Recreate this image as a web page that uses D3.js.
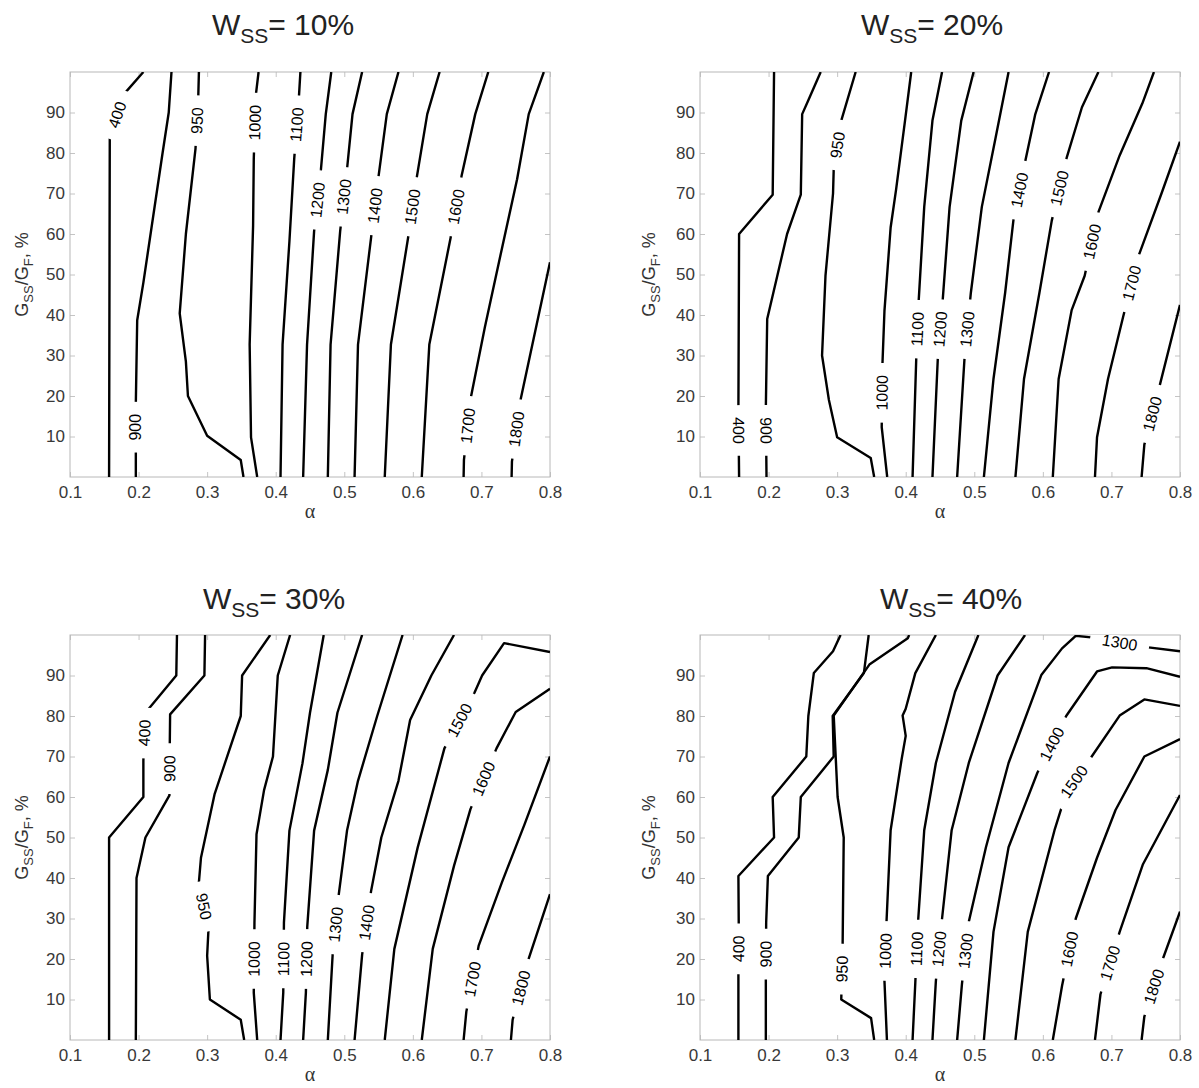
<!DOCTYPE html>
<html>
<head>
<meta charset="utf-8">
<script src="https://cdn.jsdelivr.net/npm/d3@7"></script>
<style>
  body { margin: 0; background: #fff; }
  text { font-family: Arial, "Liberation Sans", sans-serif; }
</style>
</head>
<body>
<svg id="chart" width="1199" height="1088"></svg>
<script>
// ---- data: contour lines as [level, [[alpha, Gss/Gf], ...]] ----
const xTicks = [0.1, 0.2, 0.3, 0.4, 0.5, 0.6, 0.7, 0.8];
const yTicks = [10, 20, 30, 40, 50, 60, 70, 80, 90];
const titles = ['10%', '20%', '30%', '40%'];

const wss10Lines = [
  [400, [[0.157, 0], [0.158, 84], [0.179, 94.6], [0.207, 100]]],
  [900, [[0.196, 0], [0.196, 18.3], [0.198, 38.7], [0.207, 48], [0.235, 80], [0.244, 90], [0.248, 100]]],
  [950, [[0.353, 0], [0.349, 4.2], [0.300, 10.2], [0.272, 20], [0.269, 28.5], [0.260, 40.4], [0.269, 60], [0.283, 81], [0.287, 93.5], [0.288, 100]]],
  [1000, [[0.373, 0], [0.364, 9.8], [0.362, 32.7], [0.367, 62], [0.368, 78.6], [0.371, 94.3], [0.375, 100]]],
  [1100, [[0.407, 0], [0.410, 32.7], [0.420, 58.2], [0.427, 78.6], [0.434, 94.3], [0.436, 100]]],
  [1200, [[0.440, 0], [0.4457, 32.7], [0.456, 60.7], [0.466, 76], [0.473, 89.6], [0.481, 100]]],
  [1300, [[0.476, 0], [0.480, 32.7], [0.494, 60.7], [0.504, 76], [0.512, 89.6], [0.526, 100]]],
  [1400, [[0.515, 0], [0.520, 32.7], [0.539, 59], [0.550, 74.3], [0.562, 89.6], [0.579, 100]]],
  [1500, [[0.559, 0], [0.568, 32.7], [0.593, 59], [0.606, 74.3], [0.621, 89.6], [0.639, 100]]],
  [1600, [[0.613, 0], [0.624, 32.7], [0.655, 59], [0.671, 74.3], [0.691, 89.6], [0.710, 100]]],
  [1700, [[0.674, 0], [0.6745, 4.2], [0.685, 20], [0.705, 37], [0.730, 56.5], [0.752, 73.5], [0.769, 89.6], [0.791, 100]]],
  [1800, [[0.744, 0], [0.7445, 3.8], [0.757, 19], [0.769, 28.5], [0.8, 53]]]
];
const wss10Labels = [
  [400, 0.166, 89.6], [900, 0.196, 12.3], [950, 0.285, 88], [1000, 0.369, 87.5],
  [1100, 0.431, 87], [1200, 0.461, 68.4], [1300, 0.499, 69.2], [1400, 0.545, 67],
  [1500, 0.600, 66.7], [1600, 0.663, 66.7], [1700, 0.678, 12.7], [1800, 0.749, 11.9]
];

const wss20Lines = [
  [400, [[0.157, 0], [0.156, 17], [0.157, 60], [0.206, 69.7], [0.208, 100]]],
  [900, [[0.197, 0], [0.196, 17], [0.198, 39], [0.227, 60], [0.247, 69.7], [0.249, 89.6], [0.258, 93], [0.276, 100]]],
  [950, [[0.354, 0], [0.349, 4.7], [0.300, 9.8], [0.288, 19], [0.278, 30], [0.283, 49.7], [0.294, 70], [0.295, 76], [0.306, 88], [0.327, 100]]],
  [1000, [[0.373, 0], [0.365, 12.3], [0.366, 27.6], [0.369, 41], [0.378, 61.6], [0.386, 71], [0.399, 88], [0.408, 100]]],
  [1100, [[0.410, 0], [0.4155, 30], [0.419, 43.8], [0.427, 66.7], [0.439, 88], [0.453, 100]]],
  [1200, [[0.439, 0], [0.447, 30], [0.454, 43.8], [0.464, 66.7], [0.481, 88], [0.499, 100]]],
  [1300, [[0.475, 0], [0.486, 30], [0.495, 45.5], [0.511, 66.7], [0.531, 83.7], [0.550, 100]]],
  [1400, [[0.514, 0], [0.528, 24.2], [0.545, 45.5], [0.557, 63.3], [0.574, 77.7], [0.589, 89.6], [0.609, 100]]],
  [1500, [[0.560, 0], [0.5725, 24.2], [0.595, 45.5], [0.613, 63.3], [0.635, 79], [0.657, 91.3], [0.681, 100]]],
  [1600, [[0.6145, 0], [0.623, 24.2], [0.642, 41.2], [0.661, 49.7], [0.681, 65.4], [0.712, 79.4], [0.745, 92.2], [0.762, 100]]],
  [1700, [[0.676, 0], [0.679, 9.8], [0.695, 24.2], [0.717, 39.5], [0.740, 54.8], [0.773, 70], [0.8, 82.8]]],
  [1800, [[0.744, 0], [0.748, 8], [0.771, 23], [0.8, 42.5]]]
];
const wss20Labels = [
  [400, 0.1565, 11.5], [900, 0.1965, 11.5], [950, 0.300, 82], [1000, 0.365, 20.8],
  [1100, 0.417, 36.5], [1200, 0.450, 36.5], [1300, 0.490, 36.5], [1400, 0.5615, 71],
  [1500, 0.623, 71.4], [1600, 0.670, 58.2], [1700, 0.727, 48], [1800, 0.757, 15.7]
];

const wss30Lines = [
  [400, [[0.157, 0], [0.157, 50], [0.207, 60], [0.207, 69], [0.210, 80.8], [0.255, 90], [0.256, 100]]],
  [900, [[0.196, 0], [0.197, 40], [0.210, 50], [0.245, 60.4], [0.2455, 73], [0.246, 80.4], [0.296, 90], [0.297, 100]]],
  [950, [[0.354, 0], [0.349, 5], [0.304, 10], [0.300, 20.8], [0.302, 27.5], [0.288, 39], [0.291, 45], [0.311, 60.8], [0.349, 80], [0.351, 90], [0.392, 100]]],
  [1000, [[0.373, 0], [0.368, 11.7], [0.369, 29], [0.372, 50.8], [0.383, 61.7], [0.396, 70], [0.403, 90], [0.421, 100]]],
  [1100, [[0.407, 0], [0.411, 11.7], [0.412, 29], [0.420, 51.7], [0.439, 68.3], [0.450, 80.8], [0.470, 100]]],
  [1200, [[0.440, 0], [0.444, 11.7], [0.446, 28], [0.456, 51.7], [0.476, 66.7], [0.490, 80.8], [0.526, 100]]],
  [1300, [[0.476, 0], [0.483, 21], [0.492, 36], [0.504, 51.7], [0.520, 64], [0.548, 80], [0.585, 100]]],
  [1400, [[0.515, 0], [0.526, 21], [0.539, 36.7], [0.554, 50], [0.579, 64], [0.596, 79], [0.627, 90], [0.660, 100]]],
  [1500, [[0.559, 0], [0.573, 22.5], [0.607, 47.5], [0.646, 72], [0.690, 85.8], [0.701, 90], [0.733, 98], [0.8, 95.8]]],
  [1600, [[0.613, 0], [0.629, 22.5], [0.660, 43], [0.684, 57], [0.722, 72], [0.750, 81], [0.8, 86.7]]],
  [1700, [[0.674, 0], [0.678, 7], [0.696, 23.3], [0.730, 39], [0.763, 53.3], [0.8, 70]]],
  [1800, [[0.743, 0], [0.7455, 5], [0.768, 19.6], [0.8, 36]]]
];
const wss30Labels = [
  [400, 0.208, 75.8], [900, 0.2455, 67], [950, 0.296, 33], [1000, 0.3685, 20],
  [1100, 0.4115, 20], [1200, 0.445, 20], [1300, 0.4875, 28.5], [1400, 0.532, 29],
  [1500, 0.668, 79], [1600, 0.703, 64.5], [1700, 0.687, 15], [1800, 0.757, 12.9]
];

const wss40Lines = [
  [400, [[0.156, 0], [0.156, 16.3], [0.1565, 28.4], [0.156, 40.5], [0.208, 50], [0.206, 60], [0.255, 70], [0.258, 80], [0.266, 90.6], [0.294, 96], [0.305, 100]]],
  [900, [[0.196, 0], [0.196, 15.5], [0.1965, 29], [0.199, 40.5], [0.244, 50], [0.247, 60], [0.295, 70], [0.2935, 80], [0.339, 90.6], [0.346, 100]]],
  [950, [[0.354, 0], [0.3495, 5.4], [0.306, 10], [0.308, 23.4], [0.3096, 50], [0.3007, 60], [0.295, 80.1], [0.347, 92.7], [0.403, 99.2], [0.405, 100]]],
  [1000, [[0.3726, 0], [0.369, 14.6], [0.372, 29.2], [0.378, 51.8], [0.394, 69.3], [0.400, 75.1], [0.3955, 80.1], [0.400, 81.8], [0.414, 90.6], [0.444, 100]]],
  [1100, [[0.410, 0], [0.414, 14.2], [0.418, 29.2], [0.427, 51.8], [0.444, 68.4], [0.472, 86], [0.506, 100]]],
  [1200, [[0.439, 0], [0.444, 14.6], [0.453, 30], [0.467, 51.8], [0.492, 68.4], [0.534, 90], [0.574, 100]]],
  [1300, [[0.475, 0], [0.482, 13.8], [0.492, 29.2], [0.517, 47.6], [0.550, 68.4], [0.598, 90.2], [0.628, 96.7], [0.648, 99.8], [0.670, 99.4], [0.751, 97], [0.8, 96]]],
  [1400, [[0.514, 0], [0.528, 26.7], [0.550, 47.6], [0.592, 66], [0.634, 80], [0.679, 91], [0.701, 92], [0.751, 91.8], [0.8, 89.7]]],
  [1500, [[0.560, 0], [0.578, 26.7], [0.617, 51.8], [0.634, 61], [0.670, 69.7], [0.712, 80.1], [0.748, 84.1], [0.8, 82.5]]],
  [1600, [[0.6145, 0], [0.628, 13.4], [0.648, 30], [0.679, 45], [0.706, 56.8], [0.748, 70], [0.8, 74.3]]],
  [1700, [[0.676, 0], [0.684, 11.3], [0.712, 26.7], [0.746, 43.4], [0.8, 60.5]]],
  [1800, [[0.744, 0], [0.748, 5.8], [0.776, 20.5], [0.8, 31.7]]]
];
const wss40Labels = [
  [400, 0.1563, 22.5], [900, 0.1962, 21.2], [950, 0.307, 17.5], [1000, 0.3703, 22],
  [1100, 0.416, 22.5], [1200, 0.448, 22.5], [1300, 0.487, 22], [1300, 0.712, 98.2],
  [1400, 0.614, 73], [1500, 0.648, 63.5], [1600, 0.637, 22.5], [1700, 0.698, 19], [1800, 0.762, 13.2]
];

// ---- layout ----
const W = 480, H = 405;
const panels = [
  { left: 70, top: 72, lines: wss10Lines, labels: wss10Labels, title: titles[0], titleX: 283, titleY: 35, yLabelX: 28 },
  { left: 700, top: 72, lines: wss20Lines, labels: wss20Labels, title: titles[1], titleX: 932, titleY: 35, yLabelX: 655 },
  { left: 70, top: 635, lines: wss30Lines, labels: wss30Labels, title: titles[2], titleX: 274, titleY: 609, yLabelX: 28 },
  { left: 700, top: 635, lines: wss40Lines, labels: wss40Labels, title: titles[3], titleX: 951, titleY: 609, yLabelX: 655 }
];

const svg = d3.select('#chart');

// nearest point on a pixel polyline, with the segment angle
function snap(pts, px, py) {
  let best = null;
  for (let k = 0; k < pts.length - 1; k++) {
    const [x1, y1] = pts[k], [x2, y2] = pts[k + 1];
    const dx = x2 - x1, dy = y2 - y1, L = dx * dx + dy * dy;
    let t = L ? ((px - x1) * dx + (py - y1) * dy) / L : 0;
    t = Math.max(0, Math.min(1, t));
    const qx = x1 + t * dx, qy = y1 + t * dy;
    const d = (qx - px) ** 2 + (qy - py) ** 2;
    if (!best || d < best.d) best = { d, qx, qy, ang: Math.atan2(dy, dx) * 180 / Math.PI };
  }
  return best;
}

panels.forEach((p, i) => {
  const x = d3.scaleLinear().domain([0.1, 0.8]).range([0, W]);
  const y = d3.scaleLinear().domain([0, 100]).range([H, 0]);
  const g = svg.append('g').attr('transform', `translate(${p.left},${p.top})`);

  g.append('clipPath').attr('id', 'clip' + i)
    .append('rect').attr('width', W).attr('height', H);

  // ticks (inward, mirrored like matlab box)
  const axes = [
    g.append('g').attr('transform', `translate(0,${H})`)
      .call(d3.axisBottom(x).tickValues(xTicks).tickFormat(d3.format('.1f')).tickSize(-5).tickPadding(9)),
    g.append('g')
      .call(d3.axisLeft(y).tickValues(yTicks).tickSize(-5).tickPadding(5)),
    g.append('g')
      .call(d3.axisTop(x).tickValues(xTicks).tickSize(-5).tickFormat('')),
    g.append('g').attr('transform', `translate(${W},0)`)
      .call(d3.axisRight(y).tickValues(yTicks).tickSize(-5).tickFormat(''))
  ];
  axes.forEach(a => {
    a.select('.domain').remove();
    a.selectAll('.tick line').attr('stroke', '#c4c4c4');
    a.selectAll('.tick text').attr('fill', '#383838').style('font-size', '17px');
  });

  g.append('rect').attr('width', W).attr('height', H)
    .attr('fill', 'none').attr('stroke', '#b8b8b8').attr('stroke-width', 1);

  const line = d3.line().x(d => x(d[0])).y(d => y(d[1]));
  const plot = g.append('g').attr('clip-path', `url(#clip${i})`);

  plot.selectAll('path.contour')
    .data(p.lines)
    .enter().append('path')
    .attr('class', 'contour')
    .attr('d', d => line(d[1]))
    .attr('fill', 'none')
    .attr('stroke', '#000')
    .attr('stroke-width', 2.4)
    .attr('stroke-linejoin', 'round');

  // contour labels (matlab clabel style: along the line, line broken behind)
  p.labels.forEach(([level, a, gv]) => {
    const src = p.lines.find(l => l[0] === level)[1];
    const pix = src.map(d => [x(d[0]), y(d[1])]);
    const s = snap(pix, x(a), y(gv));
    let ang = s.ang;
    if (ang > 90) ang -= 180;
    if (ang < -90) ang += 180;
    const lg = plot.append('g').attr('transform', `translate(${s.qx},${s.qy}) rotate(${ang})`);
    const t = lg.append('text')
      .attr('text-anchor', 'middle')
      .attr('dy', '0.35em')
      .style('font-size', '16px')
      .attr('fill', '#000')
      .text(level);
    const w = t.node().getComputedTextLength() + 24;
    lg.insert('rect', 'text')
      .attr('x', -w / 2).attr('y', -7).attr('width', w).attr('height', 14)
      .attr('fill', '#fff');
  });

  // title
  const tt = svg.append('text')
    .attr('x', p.titleX).attr('y', p.titleY)
    .attr('text-anchor', 'middle')
    .attr('fill', '#222')
    .style('font-size', '30px');
  tt.append('tspan').text('W');
  tt.append('tspan').style('font-size', '21px').attr('dy', 8).text('SS');
  tt.append('tspan').attr('dy', -8).text('= ' + p.title);

  // x label
  svg.append('text')
    .attr('x', p.left + W / 2).attr('y', p.top + H + 41)
    .attr('text-anchor', 'middle')
    .attr('fill', '#333')
    .style('font-family', '"Liberation Serif", "DejaVu Serif", serif')
    .style('font-size', '20px')
    .text('α');

  // y label
  const yl = svg.append('text')
    .attr('transform', `translate(${p.yLabelX},${p.top + H / 2}) rotate(-90)`)
    .attr('text-anchor', 'middle')
    .attr('fill', '#333')
    .style('font-size', '18px');
  yl.append('tspan').text('G');
  yl.append('tspan').style('font-size', '13px').attr('dy', 5).text('SS');
  yl.append('tspan').attr('dy', -5).text('/G');
  yl.append('tspan').style('font-size', '13px').attr('dy', 5).text('F');
  yl.append('tspan').attr('dy', -5).text(', %');
});
</script>
</body>
</html>
